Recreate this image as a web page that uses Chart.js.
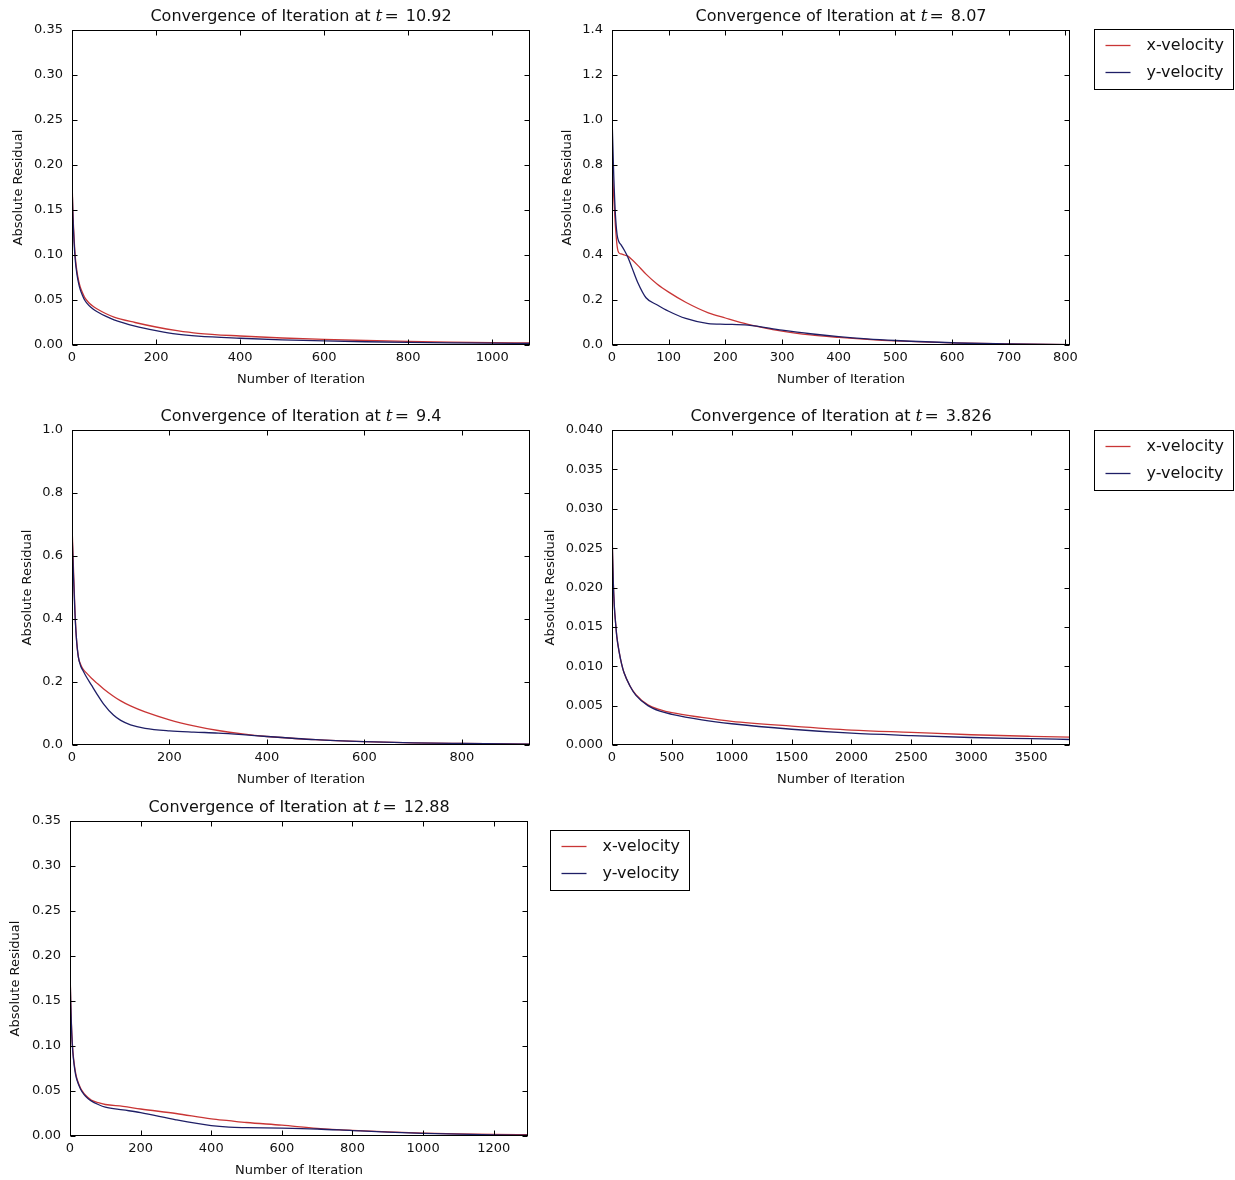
<!DOCTYPE html>
<html>
<head>
<meta charset="utf-8">
<script src="https://cdn.jsdelivr.net/npm/chart.js@4.4.1/dist/chart.umd.min.js"></script>
<style>
  html, body { margin: 0; padding: 0; background: #fff; overflow: hidden; }
  #fig { position: relative; width: 1235px; height: 1180px; }
  #fig canvas { position: absolute; }
</style>
</head>
<body>
<div id="fig"></div>
<script>
// ---- data ----
// panel 1: t = 10.92
const iter1 = [0, 2, 5, 8, 12, 16, 20, 25, 30, 40, 50, 60, 80, 100, 150, 200, 250, 300, 400, 500, 600, 700, 800, 900, 1000, 1090];
const xVel1 = [0.185, 0.150, 0.118, 0.097, 0.081, 0.071, 0.064, 0.058, 0.053, 0.047, 0.043, 0.040, 0.035, 0.031, 0.025, 0.020, 0.016, 0.013, 0.0100, 0.0078, 0.0062, 0.0050, 0.0040, 0.0032, 0.0026, 0.0022];
const yVel1 = [0.180, 0.146, 0.114, 0.093, 0.078, 0.068, 0.061, 0.055, 0.050, 0.044, 0.040, 0.037, 0.032, 0.028, 0.021, 0.016, 0.012, 0.0098, 0.0075, 0.0058, 0.0045, 0.0036, 0.0029, 0.0024, 0.0020, 0.0017];
const xTicks1 = ['0', '200', '400', '600', '800', '1000'];
const yTicks1 = ['0.00', '0.05', '0.10', '0.15', '0.20', '0.25', '0.30', '0.35'];

// panel 2: t = 8.07
const iter2 = [0, 3, 6, 9, 12, 16, 22, 28, 35, 45, 60, 80, 100, 130, 170, 200, 240, 300, 350, 400, 450, 500, 600, 700, 808];
const xVel2 = [0.82, 0.66, 0.53, 0.44, 0.41, 0.405, 0.40, 0.395, 0.38, 0.355, 0.315, 0.27, 0.235, 0.19, 0.143, 0.12, 0.092, 0.062, 0.045, 0.034, 0.025, 0.018, 0.009, 0.0045, 0.002];
const yVel2 = [1.02, 0.76, 0.58, 0.49, 0.46, 0.445, 0.42, 0.39, 0.345, 0.28, 0.21, 0.178, 0.15, 0.118, 0.095, 0.092, 0.088, 0.066, 0.05, 0.037, 0.027, 0.02, 0.01, 0.005, 0.002];
const xTicks2 = ['0', '100', '200', '300', '400', '500', '600', '700', '800'];
const yTicks2 = ['0.0', '0.2', '0.4', '0.6', '0.8', '1.0', '1.2', '1.4'];

// panel 3: t = 9.4
const iter3 = [0, 3, 6, 9, 13, 18, 23, 30, 40, 50, 65, 85, 100, 120, 150, 200, 250, 300, 350, 400, 500, 600, 700, 800, 940];
const xVel3 = [0.70, 0.56, 0.43, 0.34, 0.28, 0.255, 0.24, 0.228, 0.212, 0.198, 0.178, 0.155, 0.14, 0.124, 0.105, 0.08, 0.061, 0.046, 0.035, 0.027, 0.017, 0.011, 0.007, 0.005, 0.003];
const yVel3 = [0.68, 0.54, 0.42, 0.34, 0.28, 0.25, 0.235, 0.215, 0.19, 0.165, 0.13, 0.095, 0.078, 0.064, 0.053, 0.045, 0.041, 0.038, 0.033, 0.027, 0.017, 0.011, 0.007, 0.005, 0.003];
const xTicks3 = ['0', '200', '400', '600', '800'];
const yTicks3 = ['0.0', '0.2', '0.4', '0.6', '0.8', '1.0'];

// panel 4: t = 3.826
const iter4 = [0, 5, 10, 20, 30, 40, 60, 80, 100, 150, 200, 300, 400, 500, 750, 1000, 1500, 2000, 2500, 3000, 3500, 3825];
const xVel4 = [0.0275, 0.024, 0.021, 0.0175, 0.0155, 0.0138, 0.0118, 0.0103, 0.0092, 0.0075, 0.0064, 0.0051, 0.0045, 0.0041, 0.0035, 0.0030, 0.0024, 0.0019, 0.0016, 0.0013, 0.0011, 0.0010];
const yVel4 = [0.0275, 0.024, 0.021, 0.0175, 0.0155, 0.0138, 0.0118, 0.0103, 0.0092, 0.0075, 0.0063, 0.0050, 0.0043, 0.0039, 0.0032, 0.0027, 0.0020, 0.0015, 0.0012, 0.00095, 0.0008, 0.0007];
const xTicks4 = ['0', '500', '1000', '1500', '2000', '2500', '3000', '3500'];
const yTicks4 = ['0.000', '0.005', '0.010', '0.015', '0.020', '0.025', '0.030', '0.035', '0.040'];

// panel 5: t = 12.88
const iter5 = [0, 2, 5, 8, 12, 16, 20, 30, 40, 50, 60, 80, 100, 150, 200, 300, 400, 450, 500, 600, 700, 800, 900, 1000, 1100, 1200, 1297];
const xVel5 = [0.188, 0.150, 0.115, 0.095, 0.080, 0.070, 0.063, 0.053, 0.047, 0.043, 0.040, 0.037, 0.035, 0.033, 0.030, 0.025, 0.019, 0.017, 0.015, 0.012, 0.0085, 0.0062, 0.0045, 0.0032, 0.0023, 0.0017, 0.0014];
const yVel5 = [0.185, 0.148, 0.113, 0.093, 0.078, 0.068, 0.062, 0.052, 0.046, 0.042, 0.039, 0.035, 0.032, 0.029, 0.026, 0.018, 0.0115, 0.0098, 0.0093, 0.0088, 0.0078, 0.006, 0.0043, 0.003, 0.002, 0.0013, 0.001];
const xTicks5 = ['0', '200', '400', '600', '800', '1000', '1200'];
const yTicks5 = ['0.00', '0.05', '0.10', '0.15', '0.20', '0.25', '0.30', '0.35'];

const tValues = ['10.92', '8.07', '9.4', '3.826', '12.88'];
const seriesNames = ['x-velocity', 'y-velocity'];

// ---- layout ----
const SANS = '"DejaVu Sans", "Bitstream Vera Sans", sans-serif';
const SERIF = '"DejaVu Serif", "Liberation Serif", serif';
const RED = '#c93535';
const NAVY = '#1e1e66';

const panels = [
  { iter: iter1, xv: xVel1, yv: yVel1, xt: xTicks1, yt: yTicks1, t: tValues[0],
    left: 0, box: [72, 30, 530, 345], yTitleX: 19, extra: 10, legend: null },
  { iter: iter2, xv: xVel2, yv: yVel2, xt: xTicks2, yt: yTicks2, t: tValues[1],
    left: 540, box: [612, 30, 1070, 345], yTitleX: 568, extra: 165, legend: { dx: 24, dy: -1 } },
  { iter: iter3, xv: xVel3, yv: yVel3, xt: xTicks3, yt: yTicks3, t: tValues[2],
    left: 0, box: [72, 430, 530, 745], yTitleX: 28, extra: 10, legend: null },
  { iter: iter4, xv: xVel4, yv: yVel4, xt: xTicks4, yt: yTicks4, t: tValues[3],
    left: 540, box: [612, 430, 1070, 745], yTitleX: 551, extra: 165, legend: { dx: 24, dy: 0 } },
  { iter: iter5, xv: xVel5, yv: yVel5, xt: xTicks5, yt: yTicks5, t: tValues[4],
    left: 0, box: [70, 821, 528, 1136], yTitleX: 16, extra: 170, legend: { dx: 22, dy: 9 } }
];

// frame with inward ticks on all four sides (matplotlib classic look)
const framePlugin = {
  id: 'frame',
  afterDraw(chart) {
    const { ctx, chartArea: a, scales: { x, y } } = chart;
    const L = Math.round(a.left) + 0.5, R = Math.round(a.right) - 0.5;
    const T = Math.round(a.top) + 0.5, B = Math.round(a.bottom) - 0.5;
    ctx.save();
    ctx.strokeStyle = '#000';
    ctx.lineWidth = 1;
    ctx.beginPath();
    x.ticks.forEach(tk => {
      const px = Math.round(x.getPixelForValue(tk.value)) + 0.5;
      ctx.moveTo(px, B); ctx.lineTo(px, B - 5);
      ctx.moveTo(px, T); ctx.lineTo(px, T + 5);
    });
    y.ticks.forEach(tk => {
      const py = Math.round(y.getPixelForValue(tk.value)) + 0.5;
      ctx.moveTo(L, py); ctx.lineTo(L + 5, py);
      ctx.moveTo(R, py); ctx.lineTo(R - 5, py);
    });
    ctx.stroke();
    ctx.strokeRect(L, T, R - L, B - T);
    ctx.restore();
  }
};

// title with math-style italic t
const titlePlugin = {
  id: 'mathTitle',
  afterDraw(chart, args, opts) {
    const { ctx, chartArea: a } = chart;
    const parts = [
      { s: 'Convergence of Iteration at ', f: '16px ' + SANS, gap: 0 },
      { s: 't', f: 'italic 17px ' + SERIF, gap: 0 },
      { s: '=', f: '17px ' + SERIF, gap: 2 },
      { s: ' ' + opts.value, f: '16px ' + SANS, gap: 2 }
    ];
    ctx.save();
    let total = 0;
    parts.forEach(p => { ctx.font = p.f; p.w = ctx.measureText(p.s).width; total += p.w + p.gap; });
    let x = (a.left + a.right) / 2 - total / 2;
    const y = a.top - 13;
    ctx.fillStyle = '#111';
    ctx.textBaseline = 'middle';
    ctx.textAlign = 'left';
    parts.forEach(p => { x += p.gap; ctx.font = p.f; ctx.fillText(p.s, x, y); x += p.w; });
    ctx.restore();
  }
};

// boxed legend outside the axes, upper right
const boxLegendPlugin = {
  id: 'boxLegend',
  afterDraw(chart, args, opts) {
    if (!opts || !opts.show) return;
    const { ctx, chartArea: a } = chart;
    const bx = Math.round(a.right + opts.dx) + 0.5, by = Math.round(a.top + opts.dy) + 0.5;
    const w = 139, h = 60;
    ctx.save();
    ctx.fillStyle = '#fff';
    ctx.fillRect(bx, by, w, h);
    ctx.strokeStyle = '#000';
    ctx.lineWidth = 1;
    ctx.strokeRect(bx, by, w, h);
    chart.data.datasets.forEach((ds, i) => {
      const ry = by + 16 + i * 27;
      ctx.strokeStyle = ds.borderColor;
      ctx.lineWidth = 1.3;
      ctx.beginPath();
      ctx.moveTo(bx + 11, ry); ctx.lineTo(bx + 36, ry);
      ctx.stroke();
      ctx.fillStyle = '#111';
      ctx.font = '16px ' + SANS;
      ctx.textBaseline = 'middle';
      ctx.fillText(ds.label, bx + 52, ry);
    });
    ctx.restore();
  }
};

const fig = document.getElementById('fig');

panels.forEach(p => {
  const [l, t, r, b] = p.box;
  const top = t - 30;
  const width = (r - p.left) + p.extra;
  const height = (b - t) + 30 + 44;
  const cv = document.createElement('canvas');
  cv.width = width; cv.height = height;
  cv.style.left = p.left + 'px'; cv.style.top = top + 'px';
  cv.style.width = width + 'px'; cv.style.height = height + 'px';
  fig.appendChild(cv);

  const yAxisW = l - p.left;
  const yTitleOffset = p.yTitleX - p.left;
  const tickFont = { family: SANS, size: 13 };
  const titleFont = { family: SANS, size: 13 };

  new Chart(cv.getContext('2d'), {
    type: 'line',
    data: {
      datasets: [
        { label: seriesNames[0], data: p.iter.map((v, i) => ({ x: v, y: p.xv[i] })),
          borderColor: RED, borderWidth: 1.3, pointRadius: 0, cubicInterpolationMode: 'monotone', order: 2 },
        { label: seriesNames[1], data: p.iter.map((v, i) => ({ x: v, y: p.yv[i] })),
          borderColor: NAVY, borderWidth: 1.3, pointRadius: 0, cubicInterpolationMode: 'monotone', order: 1 }
      ]
    },
    options: {
      responsive: false,
      animation: false,
      devicePixelRatio: 1,
      layout: { padding: { top: 30, right: p.extra, left: 0, bottom: 0 } },
      plugins: {
        legend: { display: false },
        tooltip: { enabled: false },
        mathTitle: { value: p.t },
        boxLegend: p.legend ? { show: true, dx: p.legend.dx, dy: p.legend.dy } : { show: false }
      },
      scales: {
        x: {
          type: 'linear',
          min: 0,
          max: p.iter[p.iter.length - 1],
          grid: { display: false, drawTicks: false },
          border: { display: false },
          afterBuildTicks: s => { s.ticks = p.xt.map(v => ({ value: +v })); },
          ticks: { color: '#111', font: tickFont, padding: 5, maxRotation: 0, autoSkip: false,
                   callback: (v, i) => p.xt[i] },
          title: { display: true, text: 'Number of Iteration', color: '#111', font: titleFont,
                   padding: { top: 0, bottom: 1.5 } },
          afterFit: s => { s.height = 44; }
        },
        y: {
          type: 'linear',
          min: 0,
          max: +p.yt[p.yt.length - 1],
          grid: { display: false, drawTicks: false },
          border: { display: false },
          afterBuildTicks: s => { s.ticks = p.yt.map(v => ({ value: +v })); },
          ticks: { color: '#111', font: tickFont, padding: 9, autoSkip: false,
                   callback: (v, i) => p.yt[i] },
          title: { display: true, text: 'Absolute Residual', color: '#111', font: titleFont,
                   padding: { top: Math.max(yTitleOffset - 7.8, 0), bottom: 0 } },
          afterFit: s => { s.width = yAxisW; }
        }
      }
    },
    plugins: [framePlugin, titlePlugin, boxLegendPlugin]
  });
});
</script>
</body>
</html>
